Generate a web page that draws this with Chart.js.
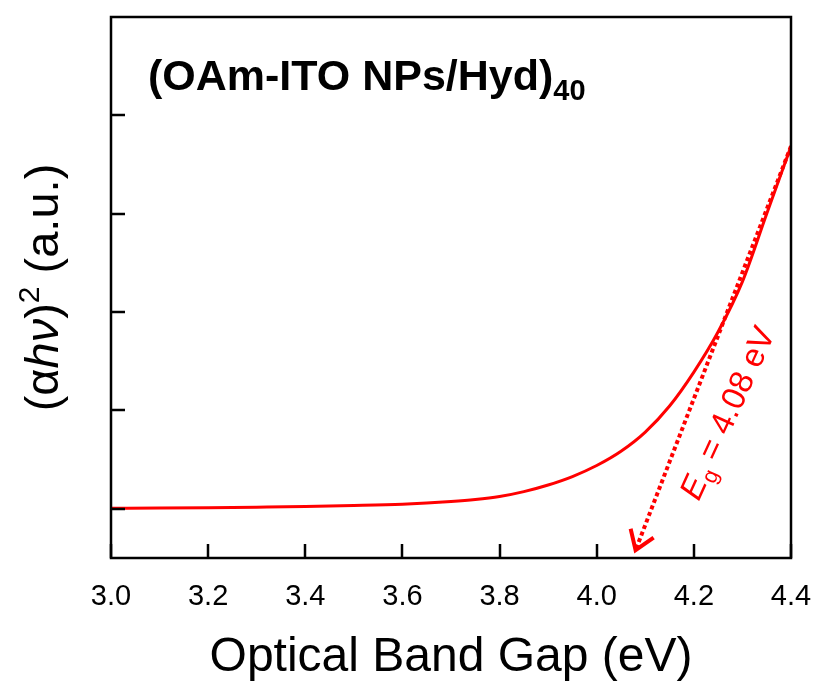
<!DOCTYPE html>
<html>
<head>
<meta charset="utf-8">
<script src="https://cdn.jsdelivr.net/npm/chart.js@4/dist/chart.umd.min.js"></script>
<style>
  html, body { margin: 0; padding: 0; background: #ffffff; }
  canvas { display: block; }
</style>
</head>
<body>
<canvas id="tauc" width="817" height="688"></canvas>
<script>
// Tauc plot: photon energy (eV) against (alpha h nu)^2 in arbitrary units
const bandGapEv = [3.00, 3.10, 3.20, 3.30, 3.40, 3.50, 3.60, 3.70, 3.75, 3.80, 3.85,
                   3.90, 3.95, 4.00, 4.05, 4.10, 4.15, 4.20, 4.25, 4.30, 4.35, 4.40];
const absorptionSq = [0.005, 0.008, 0.012, 0.017, 0.023, 0.033, 0.047, 0.074, 0.094, 0.125, 0.175,
                      0.242, 0.328, 0.440, 0.585, 0.780, 1.045, 1.390, 1.800, 2.310, 3.000, 3.686];

// linear extrapolation of the absorption edge, ending at the band gap
const tangentEv = [4.40, 4.08];
const tangentVal = [3.686, -0.42];

const xTickValues = [3.0, 3.2, 3.4, 3.6, 3.8, 4.0, 4.2, 4.4];
const yTickValues = [0, 1, 2, 3, 4];

const sampleName = '(OAm-ITO NPs/Hyd)';
const layerCount = '40';
const gapLabel = ' = 4.08 eV';

const FAMILY = '"Liberation Sans", Arial, Helvetica, sans-serif';
const RED = '#ff0000';

const curvePoints = bandGapEv.map((x, i) => ({ x: x, y: absorptionSq[i] }));
const tangentPoints = tangentEv.map((x, i) => ({ x: x, y: tangentVal[i] }));

// draws text made of runs with their own font and baseline shift
function drawRuns(ctx, runs, startX, baseY) {
  let x = startX;
  for (const r of runs) {
    ctx.font = r.font;
    ctx.fillText(r.text, x, baseY + (r.dy || 0));
    x += ctx.measureText(r.text).width;
  }
}
function runsWidth(ctx, runs) {
  let w = 0;
  for (const r of runs) { ctx.font = r.font; w += ctx.measureText(r.text).width; }
  return w;
}

const framePlugin = {
  id: 'frame',
  afterDatasetsDraw(chart) {
    const ctx = chart.ctx;
    const a = chart.chartArea;
    const xs = chart.scales.x, ys = chart.scales.y;
    ctx.save();
    ctx.strokeStyle = '#000';
    ctx.lineWidth = 2.5;
    ctx.lineCap = 'butt';
    // inward ticks on the bottom and left axes
    const tl = 14;
    ctx.beginPath();
    for (const v of xTickValues) {
      const px = Math.round(xs.getPixelForValue(v));
      ctx.moveTo(px, a.bottom);
      ctx.lineTo(px, a.bottom - tl);
    }
    for (const v of yTickValues) {
      const py = Math.round(ys.getPixelForValue(v));
      ctx.moveTo(a.left, py);
      ctx.lineTo(a.left + tl, py);
    }
    ctx.stroke();
    ctx.strokeRect(a.left, a.top, a.right - a.left, a.bottom - a.top);

    // arrowhead at the end of the extrapolated edge
    const x0 = xs.getPixelForValue(tangentEv[0]), y0 = ys.getPixelForValue(tangentVal[0]);
    const x1 = xs.getPixelForValue(tangentEv[1]), y1 = ys.getPixelForValue(tangentVal[1]);
    const back = Math.atan2(y0 - y1, x0 - x1);
    const spread = 34 * Math.PI / 180, len = 22;
    ctx.strokeStyle = RED;
    ctx.lineWidth = 4;
    ctx.lineJoin = 'miter';
    ctx.beginPath();
    ctx.moveTo(x1 + len * Math.cos(back - spread), y1 + len * Math.sin(back - spread));
    ctx.lineTo(x1, y1);
    ctx.lineTo(x1 + len * Math.cos(back + spread), y1 + len * Math.sin(back + spread));
    ctx.stroke();

    // band gap label along the extrapolated line
    ctx.fillStyle = RED;
    ctx.textBaseline = 'alphabetic';
    ctx.translate(xs.getPixelForValue(4.21), ys.getPixelForValue(0.07));
    ctx.rotate(-65.5 * Math.PI / 180);
    drawRuns(ctx, [
      { text: 'E', font: 'italic 33px ' + FAMILY },
      { text: 'g', font: '22px ' + FAMILY, dy: 7 },
      { text: gapLabel, font: '33px ' + FAMILY }
    ], 0, 0);
    ctx.restore();

    // sample label inside the frame
    ctx.save();
    ctx.fillStyle = '#000';
    ctx.textBaseline = 'alphabetic';
    drawRuns(ctx, [
      { text: sampleName, font: 'bold 43px ' + FAMILY },
      { text: layerCount, font: 'bold 29px ' + FAMILY, dy: 10 }
    ], a.left + 37, 90);
    ctx.restore();
  },
  afterDraw(chart) {
    // y axis title with italic and superscript parts
    const ctx = chart.ctx;
    const a = chart.chartArea;
    const runs = [
      { text: '(\u03B1', font: '47px ' + FAMILY },
      { text: 'h\u03BD', font: 'italic 47px ' + FAMILY },
      { text: ')', font: '47px ' + FAMILY },
      { text: '2', font: '30px ' + FAMILY, dy: -19 },
      { text: ' (a.u.)', font: '47px ' + FAMILY }
    ];
    ctx.save();
    ctx.fillStyle = '#000';
    ctx.textBaseline = 'alphabetic';
    ctx.translate(58, (a.top + a.bottom) / 2);
    ctx.rotate(-Math.PI / 2);
    drawRuns(ctx, runs, -runsWidth(ctx, runs) / 2, 0);
    ctx.restore();
  }
};

const chart = new Chart(document.getElementById('tauc'), {
  type: 'line',
  data: {
    datasets: [
      {
        data: curvePoints,
        borderColor: RED,
        borderWidth: 3,
        pointRadius: 0,
        fill: false,
        cubicInterpolationMode: 'monotone'
      },
      {
        data: tangentPoints,
        borderColor: RED,
        borderWidth: 4,
        borderDash: [4, 3],
        borderCapStyle: 'butt',
        pointRadius: 0,
        fill: false,
        tension: 0
      }
    ]
  },
  options: {
    responsive: false,
    animation: false,
    devicePixelRatio: 1,
    layout: { padding: { top: 17, right: 26, left: 111, bottom: 0 } },
    plugins: { legend: { display: false }, tooltip: { enabled: false } },
    scales: {
      x: {
        type: 'linear',
        min: 3.0,
        max: 4.4,
        afterBuildTicks(scale) { scale.ticks = xTickValues.map(v => ({ value: v })); },
        afterFit(scale) {
          scale.height = 130;
          scale.paddingLeft = 0;
          scale.paddingRight = 0;
        },
        ticks: {
          padding: 22,
          color: '#000',
          font: { family: FAMILY, size: 29 },
          maxRotation: 0,
          callback: v => Number(v).toFixed(1)
        },
        grid: { display: false, drawTicks: false },
        border: { display: false },
        title: {
          display: true,
          text: 'Optical Band Gap (eV)',
          color: '#000',
          font: { family: FAMILY, size: 48 },
          padding: { top: 10, bottom: 1 }
        }
      },
      y: {
        type: 'linear',
        min: -0.5,
        max: 5.0,
        ticks: { display: false },
        grid: { display: false, drawTicks: false },
        border: { display: false }
      }
    }
  },
  plugins: [framePlugin]
});
</script>
</body>
</html>
